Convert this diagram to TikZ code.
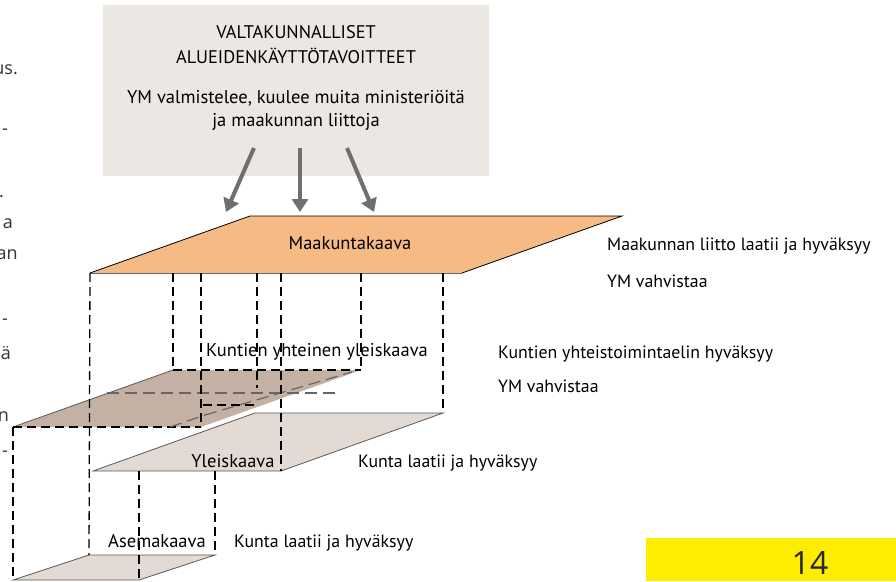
\documentclass[tikz,border=0pt]{standalone}
\usepackage{fontspec}
\setmainfont{PT Sans}
\newfontfamily\pagefont{Open Sans}
\usetikzlibrary{arrows.meta,positioning}

\definecolor{titlegray}{HTML}{EBE7E2}
\definecolor{maakcolor}{HTML}{F6BB85}
\definecolor{kuntcolor}{HTML}{C4B1A4}
\definecolor{yleiscolor}{HTML}{E3DAD4}
\definecolor{arrowgray}{HTML}{6F6F6F}
\definecolor{pageyellow}{HTML}{FFED00}

\tikzset{
  layertext/.style={font=\fontsize{18.5}{22}\selectfont, inner sep=0pt, text=black},
  sidetext/.style={layertext, font=\fontsize{17.8}{22}\selectfont, anchor=base west},
  hidden/.style={black, line width=1.3pt, dash pattern=on 9pt off 5pt},
  hiddengray/.style={black!60, line width=1.2pt, dash pattern=on 12pt off 6pt},
  fatarrow/.style={draw=arrowgray, line width=4pt, -{Triangle[width=16pt,length=13pt]}},
  fragment/.style={font=\pagefont\fontsize{18}{21}\selectfont, text=black!80, inner sep=0pt, anchor=base east},
  planeedge/.style={draw=black!65, line width=0.8pt}
}

\begin{document}
\begin{tikzpicture}[x=1pt,y=-1pt]
    \path[use as bounding box, fill=white] (0,0) rectangle (896,581);

    % cut page text on the left
    \node[fragment] (frag1) at (18,74) {us.};
    \node[fragment] (frag2) at (8,134) {-};
    \node[fragment] (frag3) at (4,197) {.};
    \node[fragment] (frag4) at (13,228) {a};
    \node[fragment] (frag5) at (18,259) {an};
    \node[fragment] (frag6) at (8,324) {-};
    \node[fragment] (frag7) at (11,359) {ä};
    \node[fragment] (frag8) at (9,421) {n};
    \node[fragment] (frag9) at (8,456) {-};

    % title box
    \node[fill=titlegray, minimum width=386pt, minimum height=171pt, inner sep=0pt] (title) at (296,90.5) {};
    \node[layertext, align=center, font=\fontsize{18.3}{25}\selectfont] (titlehead) at (296,45) {VALTAKUNNALLISET\\ALUEIDENKÄYTTÖTAVOITTEET};
    \node[layertext, align=center, font=\fontsize{18.5}{23}\selectfont] (titlesub) at (296,110) {YM valmistelee, kuulee muita ministeriöitä\\ja maakunnan liittoja};

    \coordinate (startL) at (254,148);
    \coordinate (startM) at (300,148);
    \coordinate (startR) at (347,148);
    \coordinate (tipL) at (226,212);
    \coordinate (tipM) at (300,212);
    \coordinate (tipR) at (374,212);
    \draw[fatarrow] (startL) -- (tipL);
    \draw[fatarrow] (startM) -- (tipM);
    \draw[fatarrow] (startR) -- (tipR);

    % plane corners
    \coordinate (mA) at (90,273);  \coordinate (mB) at (462,273);
    \coordinate (mC) at (622,216); \coordinate (mD) at (250,216);
    \coordinate (kA) at (13,427);  \coordinate (kB) at (201,427);
    \coordinate (kC) at (361,370); \coordinate (kD) at (173,370);
    \coordinate (yA) at (93,471);  \coordinate (yB) at (281,471);
    \coordinate (yC) at (443,413); \coordinate (yD) at (255,413);
    \coordinate (aA) at (13,580);  \coordinate (aB) at (139,580);
    \coordinate (aC) at (215,555); \coordinate (aD) at (89,555);

    % asemakaava
    \filldraw[fill=yleiscolor, planeedge] (aA) -- (aB) -- (aC) -- (aD) -- cycle;
    % yleiskaava
    \filldraw[fill=yleiscolor, planeedge] (yA) -- (yB) -- (yC) -- (yD) -- cycle;
    % kuntien yhteinen yleiskaava
    \fill[kuntcolor] (kA) -- (kB) -- (kC) -- (kD) -- cycle;
    \draw[black!65, line width=0.8pt] (kA) -- (kD);
    \draw[hidden] (kD) -- (kC);
    \draw[hidden] (kA) -- (kB);
    \draw[hiddengray] (107,393) -- (335,393);
    \draw[hiddengray] (170,427) -- (205,415);
    \draw[hiddengray] (205,415) -- (352,372);
    \draw[hidden] (203,405) -- (255,405);

    % maakuntakaava
    \fill[maakcolor] (mA) -- (mB) -- (mC) -- (mD) -- cycle;
    \draw[black, line width=0.8pt] (mA) -- (mD) -- (mC) -- (mB);
    \draw[black!60, line width=0.8pt] (mA) -- (mB);

    % vertical links between planes
    \draw[hidden] (mA) -- (aD);
    \draw[hidden] (173,273) -- (kD);
    \draw[hidden] (201,273) -- (kB);
    \draw[hidden] (257,273) -- (257,388);
    \draw[hidden] (281,273) -- (yB);
    \draw[hidden] (361,273) -- (kC);
    \draw[hidden] (443,273) -- (yC);
    \draw[hidden] (kA) -- (aA);
    \draw[hidden] (139,471) -- (aB);
    \draw[hidden] (215,471) -- (aC);

    % plane labels
    \node[layertext] (maaklabel) at (350,243) {Maakuntakaava};
    \node[layertext] (kuntlabel) at (317,352) {Kuntien yhteinen yleiskaava};
    \node[layertext] (yleislabel) at (233,461) {Yleiskaava};
    \node[layertext] (asemalabel) at (157,541) {Asemakaava};

    % who decides
    \node[sidetext] (maakwho) at (607,250) {Maakunnan liitto laatii ja hyväksyy};
    \node[sidetext] (maakym) at (607,287) {YM vahvistaa};
    \node[sidetext] (kuntwho) at (498,358) {Kuntien yhteistoimintaelin hyväksyy};
    \node[sidetext] (kuntym) at (498,392) {YM vahvistaa};
    \node[sidetext] (yleiswho) at (358,467) {Kunta laatii ja hyväksyy};
    \node[sidetext] (asemawho) at (234,547) {Kunta laatii ja hyväksyy};

    % page number
    \node[fill=pageyellow, minimum width=250pt, minimum height=43pt, inner sep=0pt] (pagebox) at (771,559.5) {};
    \node[font=\pagefont\fontsize{32}{36}\selectfont, text=black!85, inner sep=0pt] (pagenum) at (810,563) {14};
\end{tikzpicture}
\end{document}
